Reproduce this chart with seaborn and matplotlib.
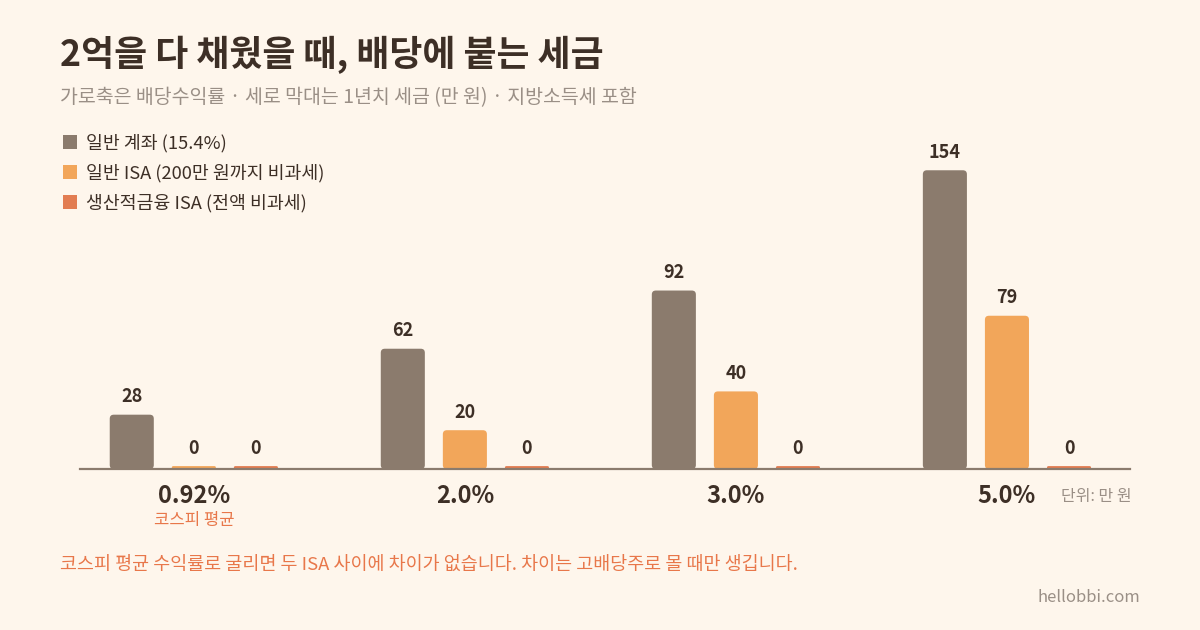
import matplotlib.pyplot as plt
import pandas as pd
import seaborn as sns
import numpy as np
from matplotlib.patches import FancyBboxPatch

# Data
rates = ['0.92%', '2.0%', '3.0%', '5.0%']
series = ['일반 계좌 (15.4%)', '일반 ISA (200만 원까지 비과세)', '생산적금융 ISA (전액 비과세)']
general_tax = [28, 62, 92, 154]
isa_tax = [0, 20, 40, 79]
prod_isa_tax = [0, 0, 0, 0]

colors = ['#8B7B6D', '#F2A65A', '#E27D52']
bg = '#FEF6EC'
dark = '#3D2F26'
grey = '#9A8F86'
accent = '#E8774A'

rows = []
for name, vals in zip(series, [general_tax, isa_tax, prod_isa_tax]):
    for r, v in zip(rates, vals):
        rows.append({'rate': r, 'series': name, 'tax': v})
df = pd.DataFrame(rows)
# zero bars still show a thin stub
df['shown'] = np.maximum(df['tax'], 1.5)

sns.set_theme(style='white')
plt.rcParams['font.family'] = ['Noto Sans CJK KR', 'DejaVu Sans']

fig = plt.figure(figsize=(12, 6.3), dpi=100, facecolor=bg)
ax = fig.add_axes([80 / 1200, 161 / 630, 1050 / 1200, 329 / 630])
ax.set_facecolor(bg)

sns.barplot(data=df, x='rate', y='shown', hue='series', order=rates, hue_order=series,
            palette=colors, width=0.687, gap=0.29, ax=ax, legend=False, saturation=1)

# value labels from the real values
for cont, vals in zip(ax.containers, [general_tax, isa_tax, prod_isa_tax]):
    ax.bar_label(cont, labels=[str(v) for v in vals], padding=6, fontsize=13,
                 fontweight='bold', color=dark)

# rounded corners
rx = 4 / 271
ry = 4 / 1.94
for p in list(ax.patches):
    x, y = p.get_x(), p.get_y()
    w, h = p.get_width(), p.get_height()
    rr = min(rx, h / 2 * rx / ry)
    fb = FancyBboxPatch((x, y), w, h, boxstyle=f'round,pad=0,rounding_size={rr}',
                        mutation_aspect=ry / rx, facecolor=p.get_facecolor(),
                        edgecolor='none', zorder=2)
    ax.add_patch(fb)
    p.set_visible(False)

ax.set_xlim(-0.42, 3.454)
ax.set_ylim(0, 169.6)
ax.set_xlabel('')
ax.set_ylabel('')
ax.set_yticks([])
ax.set_xticks(range(len(rates)))
ax.set_xticklabels(rates, fontsize=17, fontweight='bold', color=dark)
ax.tick_params(axis='x', length=0, pad=11)
for s in ['top', 'left', 'right']:
    ax.spines[s].set_visible(False)
ax.spines['bottom'].set_color('#8B7B6D')
ax.spines['bottom'].set_linewidth(1.6)
ax.spines['bottom'].set_zorder(3)

ax.text(0, -0.158, '코스피 평균', transform=ax.get_xaxis_transform(), ha='center', va='center',
        fontsize=12, color=accent)

# legend
handles = [plt.Rectangle((0, 0), 1, 1, facecolor=c, edgecolor='none') for c in colors]
ax.legend(handles, series, loc='upper left', bbox_to_anchor=(46 / 1200, 1 - 117 / 630),
          bbox_transform=fig.transFigure, frameon=False, fontsize=13.2, handlelength=0.8,
          handleheight=0.8, handletextpad=0.5, labelspacing=0.64, labelcolor=dark)

# titles and notes
fig.text(60 / 1200, 1 - 55 / 630, '2억을 다 채웠을 때, 배당에 붙는 세금', fontsize=25.8,
         fontweight='bold', color=dark, va='center')
fig.text(60 / 1200, 1 - 98 / 630, '가로축은 배당수익률 · 세로 막대는 1년치 세금 (만 원) · 지방소득세 포함',
         fontsize=14, color=grey, va='center')
fig.text(1132 / 1200, 1 - 497 / 630, '단위: 만 원', fontsize=11.5, color=grey, ha='right', va='center')
fig.text(60 / 1200, 1 - 565 / 630,
         '코스피 평균 수익률로 굴리면 두 ISA 사이에 차이가 없습니다. 차이는 고배당주로 몰 때만 생깁니다.',
         fontsize=13.3, color=accent, va='center')
fig.text(1140 / 1200, 1 - 598 / 630, 'hellobbi.com', fontsize=12, color=grey, ha='right', va='center')

fig.savefig('out.png', dpi=100, facecolor=bg)
